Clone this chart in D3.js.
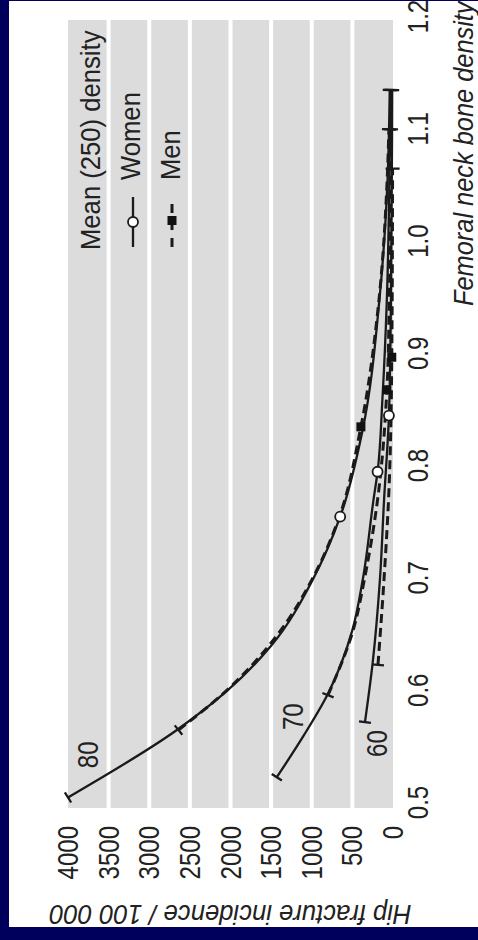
<!DOCTYPE html>
<html>
<head>
<meta charset="utf-8">
<script src="https://cdn.jsdelivr.net/npm/d3@7"></script>
<style>
  body { margin: 0; background: #00005c; }
  svg { display: block; }
  text {
    font-family: "Liberation Sans", Arial, sans-serif;
    fill: #222;
  }
</style>
</head>
<body>
<div id="chart"></div>
<script>
// axis ticks
const densityTicks = [0.5, 0.6, 0.7, 0.8, 0.9, 1.0, 1.1, 1.2];
const incidenceTicks = [0, 500, 1000, 1500, 2000, 2500, 3000, 3500, 4000];

// [femoral neck density, hip fracture incidence per 100 000]
const women80 = [[0.505, 4000], [0.565, 2660], [0.60, 2040], [0.64, 1500], [0.70, 980], [0.755, 650], [0.83, 380], [0.95, 165], [1.05, 70], [1.135, 40]];
const men80 = [[0.565, 2640], [0.60, 2050], [0.65, 1420], [0.70, 990], [0.755, 660], [0.835, 395], [0.95, 170], [1.05, 75], [1.10, 50]];
const women70 = [[0.523, 1430], [0.56, 1100], [0.596, 810], [0.654, 500], [0.70, 370], [0.77, 240], [0.795, 190], [0.86, 130], [0.95, 75], [1.05, 45], [1.135, 30]];
const men70 = [[0.596, 800], [0.654, 490], [0.70, 350], [0.77, 190], [0.868, 75], [0.95, 45], [1.10, 25]];
const women60 = [[0.572, 345], [0.625, 250], [0.70, 160], [0.77, 110], [0.845, 50], [0.95, 25], [1.135, 10]];
const men60 = [[0.623, 185], [0.70, 110], [0.77, 55], [0.897, 15], [1.065, 5]];

// mean density of each group
const womenMeans = [[0.755, 650], [0.795, 190], [0.845, 50]];
const menMeans = [[0.835, 395], [0.868, 75], [0.897, 15]];

// age group labels
const ageLabels = ['80', '70', '60'];
const ageLabelDensity = [0.531, 0.565, 0.541];
const ageLabelIncidence = [3630, 1110, 75];

const W = 478, H = 940;

// narrow the type like a condensed face
function squeeze(sel, k) {
    sel.each(function() {
        const t = d3.select(this);
        const x0 = +t.attr('x') || 0;
        const y0 = +t.attr('y') || 0;
        t.attr('x', 0).attr('y', 0)
            .attr('transform', `translate(${x0},${y0}) scale(${k},1)`);
    });
}

const svg = d3.select('#chart').append('svg')
    .attr('width', W)
    .attr('height', H);

svg.append('rect').attr('width', W).attr('height', H).attr('fill', '#00005c');
svg.append('rect')
    .attr('x', 9).attr('y', 1)
    .attr('width', W - 9).attr('height', 926)
    .attr('fill', '#fff');

// the chart is drawn upright then turned a quarter turn
const x = d3.scaleLinear().domain([0.5, 1.2]).range([0, 786]);
const y = d3.scaleLinear().domain([0, 4000]).range([325, 0]);

const g = svg.append('g').attr('transform', 'translate(68,803) rotate(-90)');

g.append('rect')
    .attr('x', x(0.5) - 5)
    .attr('width', x(1.2) - 3 - (x(0.5) - 5))
    .attr('y', y(4000))
    .attr('height', y(0) - y(4000))
    .attr('fill', '#dcdcdc');

g.selectAll('.grid')
    .data(incidenceTicks.slice(1, -1))
    .enter()
    .append('line')
    .attr('class', 'grid')
    .attr('x1', x(0.5) - 5)
    .attr('x2', x(1.2) - 3)
    .attr('y1', d => y(d))
    .attr('y2', d => y(d))
    .attr('stroke', '#fff')
    .attr('stroke-width', 4);

const yAxis = g.append('g')
    .call(d3.axisLeft(y).tickValues(incidenceTicks).tickFormat(d3.format('d')).tickSize(0).tickPadding(23));
const xAxis = g.append('g')
    .attr('transform', `translate(0,${y(0)})`)
    .call(d3.axisBottom(x).tickValues(densityTicks).tickFormat(d3.format('.1f')).tickSize(0).tickPadding(14));
[xAxis, yAxis].forEach(a => {
    a.select('.domain').remove();
    a.selectAll('text')
        .style('font-size', '30px')
        .style('font-family', '"Liberation Sans", Arial, sans-serif')
        .attr('fill', '#222')
        .call(squeeze, 0.8);
});

// axis titles
g.append('text')
    .attr('transform', `translate(-102,${y(2000)}) rotate(-90) scale(0.95,1)`)
    .style('text-anchor', 'middle')
    .style('font-size', '27px')
    .style('font-style', 'italic')
    .text('Hip fracture incidence / 100 000');

g.append('text')
    .attr('x', 497)
    .attr('y', 405)
    .style('font-size', '27px')
    .style('font-style', 'italic')
    .text('Femoral neck bone density')
    .call(squeeze, 0.94);

// curves
const line = d3.line()
    .x(d => x(d[0]))
    .y(d => y(d[1]))
    .curve(d3.curveMonotoneX);

const series = [
    { data: women80, dash: null },
    { data: men80, dash: '9,5' },
    { data: women70, dash: null },
    { data: men70, dash: '9,5' },
    { data: women60, dash: null },
    { data: men60, dash: '9,5' }
];

g.selectAll('.curve')
    .data(series)
    .enter()
    .append('path')
    .attr('class', 'curve')
    .attr('d', d => line(d.data))
    .attr('fill', 'none')
    .attr('stroke', '#1a1a1a')
    .attr('stroke-width', d => d.dash ? 3 : 2.3)
    .attr('stroke-dasharray', d => d.dash);

// end caps perpendicular to the curve
function cap(p, q, len) {
    const ax = x(p[0]), ay = y(p[1]);
    const dx = x(q[0]) - ax, dy = y(q[1]) - ay;
    const n = Math.hypot(dx, dy);
    const px = -dy / n * len / 2, py = dx / n * len / 2;
    return [ax - px, ay - py, ax + px, ay + py];
}
const caps = [];
series.forEach(s => {
    const d = s.data;
    caps.push(cap(d[0], d[1], 12));
    caps.push(cap(d[d.length - 1], d[d.length - 2], 14));
});
g.selectAll('.cap')
    .data(caps)
    .enter()
    .append('line')
    .attr('class', 'cap')
    .attr('x1', d => d[0]).attr('y1', d => d[1])
    .attr('x2', d => d[2]).attr('y2', d => d[3])
    .attr('stroke', '#1a1a1a')
    .attr('stroke-width', 2.3);

// mean markers
g.selectAll('.wmean')
    .data(womenMeans)
    .enter()
    .append('circle')
    .attr('cx', d => x(d[0]))
    .attr('cy', d => y(d[1]))
    .attr('r', 5)
    .attr('fill', '#fff')
    .attr('stroke', '#1a1a1a')
    .attr('stroke-width', 1.8);

g.selectAll('.mmean')
    .data(menMeans)
    .enter()
    .append('rect')
    .attr('x', d => x(d[0]) - 4.5)
    .attr('y', d => y(d[1]) - 4.5)
    .attr('width', 9)
    .attr('height', 9)
    .attr('fill', '#111');

// age labels
g.selectAll('.age')
    .data(ageLabels)
    .enter()
    .append('text')
    .attr('x', (d, i) => x(ageLabelDensity[i]))
    .attr('y', (d, i) => y(ageLabelIncidence[i]))
    .style('font-size', '30px')
    .text(d => d)
    .call(squeeze, 0.8);

// legend
const legend = g.append('g');
legend.append('text').attr('x', 553).attr('y', 32).style('font-size', '27px')
    .text('Mean (250) density').call(squeeze, 0.95);
legend.append('line').attr('x1', 556).attr('x2', 606).attr('y1', 65).attr('y2', 65)
    .attr('stroke', '#1a1a1a').attr('stroke-width', 2.3);
legend.append('circle').attr('cx', 581).attr('cy', 65).attr('r', 5)
    .attr('fill', '#fff').attr('stroke', '#1a1a1a').attr('stroke-width', 1.8);
legend.append('text').attr('x', 623).attr('y', 72).style('font-size', '27px')
    .text('Women').call(squeeze, 0.95);
legend.append('line').attr('x1', 556).attr('x2', 606).attr('y1', 104).attr('y2', 104)
    .attr('stroke', '#1a1a1a').attr('stroke-width', 3).attr('stroke-dasharray', '9,8');
legend.append('rect').attr('x', 578).attr('y', 99.5).attr('width', 9).attr('height', 9).attr('fill', '#111');
legend.append('text').attr('x', 623).attr('y', 112).style('font-size', '27px')
    .text('Men').call(squeeze, 0.95);
</script>
</body>
</html>
